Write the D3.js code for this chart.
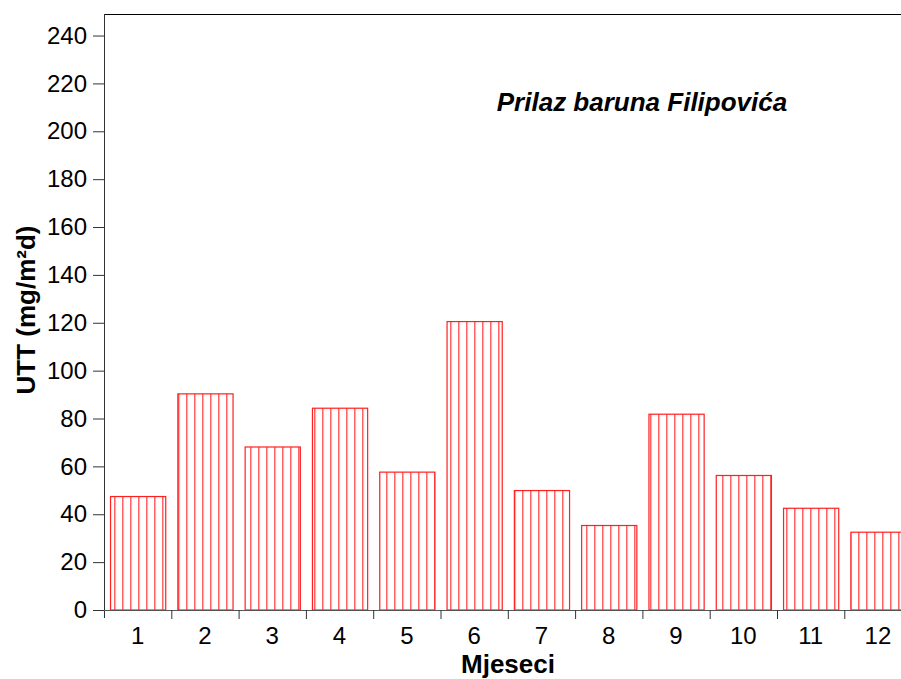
<!DOCTYPE html>
<html><head><meta charset="utf-8">
<script src="https://cdn.jsdelivr.net/npm/d3@7"></script>
<style>body{margin:0;background:#fff}svg{display:block;font-family:"Liberation Sans",Arial,sans-serif}</style>
</head><body>
<svg id="c" width="901" height="679"></svg>
<script>
const months = ["1","2","3","4","5","6","7","8","9","10","11","12"];
const values = [47.4, 90.3, 68.1, 84.3, 57.6, 120.5, 49.9, 35.3, 81.8, 56.2, 42.5, 32.5];
const yTicks = [0,20,40,60,80,100,120,140,160,180,200,220,240];
const title = "Prilaz baruna Filipovića";
const yTitle = "UTT (mg/m²d)";
const xTitle = "Mjeseci";

const svg = d3.select("#c");
const pLeft = 104, pTop = 14, pBottom = 610, pRight = 104 + 67.3*12;
const x = d3.scaleBand().domain(months).range([pLeft, pRight]).paddingInner(0.18).paddingOuter(0.09);
const xb = d3.scaleBand().domain(months).range([pLeft, pRight]);
const y = d3.scaleLinear().domain([0, 249]).range([pBottom, pTop]);

const defs = svg.append("defs");
const pat = defs.append("pattern").attr("id","hatch").attr("patternUnits","userSpaceOnUse")
  .attr("width",8).attr("height",10).attr("x",2.3);
pat.append("rect").attr("width",8).attr("height",10).attr("fill","#fff");
pat.append("line").attr("x1",0.5).attr("x2",0.5).attr("y1",0).attr("y2",10).attr("stroke","#ff2020").attr("stroke-width",1.2);

// top frame line
svg.append("line").attr("x1",pLeft).attr("x2",901).attr("y1",pTop+0.5).attr("y2",pTop+0.5).attr("stroke","#000");

svg.selectAll("rect.bar").data(values).join("rect").attr("class","bar")
  .attr("x",(d,i)=>x(months[i])+0.5).attr("width",x.bandwidth())
  .attr("y",d=>y(d)).attr("height",d=>pBottom-y(d))
  .attr("fill","url(#hatch)").attr("stroke","#ff2020").attr("stroke-width",1.2);

// y axis
const ya = svg.append("g").attr("transform",`translate(${pLeft},0)`)
  .call(d3.axisLeft(y).tickValues(yTicks).tickSize(11).tickSizeOuter(0));
ya.select(".domain").attr("stroke","#333").attr("d",`M0.5,${pTop}V${pBottom+8}`);
ya.selectAll(".tick line").attr("stroke","#333");
ya.selectAll("text").attr("font-size",24).attr("fill","#000").attr("x",-17)
  .attr("font-family","'Liberation Sans',Arial,sans-serif");

// x axis
const xa = svg.append("g").attr("transform",`translate(0,${pBottom})`);
xa.append("line").attr("x1",pLeft).attr("x2",901).attr("y1",0.5).attr("y2",0.5).attr("stroke","#555");
xa.selectAll("line.t").data(months.slice(1)).join("line").attr("class","t")
  .attr("x1",d=>xb(d)+0.5).attr("x2",d=>xb(d)+0.5).attr("y1",0).attr("y2",9).attr("stroke","#333");
xa.selectAll("text").data(months).join("text")
  .attr("x",d=>xb(d)+xb.bandwidth()/2).attr("y",34).attr("text-anchor","middle")
  .attr("font-size",24).attr("fill","#000").text(d=>d);

svg.append("text").attr("x",508).attr("y",673).attr("text-anchor","middle")
  .attr("font-size",26).attr("font-weight","bold").text(xTitle);
svg.append("text").attr("transform","translate(35,310) rotate(-90)").attr("text-anchor","middle")
  .attr("font-size",26).attr("font-weight","bold").text(yTitle);
svg.append("text").attr("x",642).attr("y",111).attr("text-anchor","middle")
  .attr("font-size",26).attr("font-weight","bold").attr("font-style","italic").text(title);
</script>
</body></html>
